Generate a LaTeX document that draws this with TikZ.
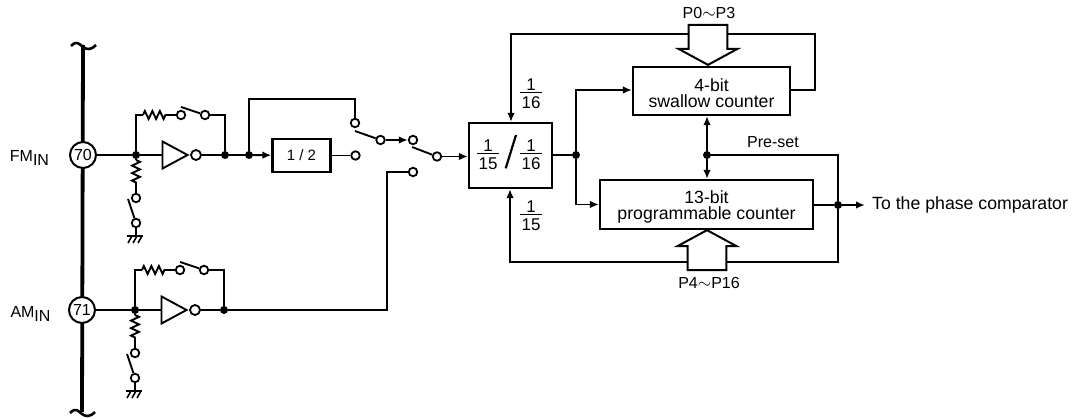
\documentclass[tikz,border=0pt]{standalone}
\usepackage{fontspec}
\setmainfont{Liberation Sans}
\usetikzlibrary{positioning,arrows.meta,calc,shapes.geometric,shapes.arrows,decorations.pathmorphing}

\newcommand{\insub}[1]{\fontsize{16}{18}\selectfont #1\raisebox{-4pt}{IN}}
\newcommand{\fracn}[2]{\fontsize{17}{18}\selectfont\vbox{\offinterlineskip\hbox to 22pt{\hss#1\hss}\kern1pt\hrule height 1.6pt\kern4pt\hbox to 22pt{\hss#2\hss}}}
\newcommand{\dnstrut}{\rule{0pt}{16.7pt}}

\begin{document}
\begin{tikzpicture}[
      x=1pt, y=-1pt,
      font=\fontsize{15}{17}\selectfont,
      wire/.style={line width=1.9pt},
      blockbox/.style={draw, line width=2.2pt, align=center, inner sep=0pt},
      bigtext/.style={font=\fontsize{17.7}{16}\selectfont},
      midtext/.style={font=\fontsize{16}{18}\selectfont},
      term/.style={draw, circle, line width=1.8pt, fill=white, minimum size=8.5pt, inner sep=0pt},
      dot/.style={circle, fill=black, minimum size=8pt, inner sep=0pt},
      pin/.style={draw, circle, line width=2pt, fill=white, minimum size=26pt, inner sep=0pt, midtext},
      invtri/.style={draw, line width=1.9pt, isosceles triangle, isosceles triangle stretches, minimum height=25pt, minimum width=27pt, inner sep=0pt},
      res/.style={wire, decorate, decoration={zigzag, amplitude=4pt, segment length=7.5pt}},
      arr/.style={wire, -{Latex[length=9pt, width=7.5pt]}},
      bigarr/.style={draw, line width=2pt, fill=white, single arrow, minimum height=40pt, minimum width=59pt, inner ysep=12.5pt, inner xsep=0pt, single arrow tip angle=123},
      busend/.pic={\draw[line width=2.6pt] (-12,1) .. controls (-6,-5) and (-4,-1) .. (0,2) .. controls (4,5) and (8,5) .. (13,0);},
      inputstage/.pic={
        \node[dot] (-jin) at (0,0) {};
        \node[invtri, anchor=apex] (-inv) at (54,0) {};
        \node[term, minimum size=10pt] (-bub) at (60,0) {};
        \node[dot] (-jout) at (89,0) {};
        % feedback
        \coordinate (-ra) at (7,-40);
        \coordinate (-rb) at (31,-40);
        \node[term] (-fba) at (45,-40) {};
        \node[term] (-fbb) at (69,-40) {};
        \coordinate (-bla) at (45,-48);
        % shunt
        \coordinate (-rc) at (0,5);
        \coordinate (-rd) at (0,29);
        \node[term] (-sha) at (0,43) {};
        \node[term] (-shb) at (0,68) {};
        \coordinate (-blb) at (-8,44);
        \coordinate (-gnd) at (0,81);
        \coordinate (-gl) at (-9,81);
        \coordinate (-gr) at (7,81);
        \draw[wire] (-jin) -- (-inv.lower side);
        \draw[wire] (-bub) -- (-jout);
        \draw[wire] (-jin) |- (-ra);
        \draw[res] (-ra) -- (-rb);
        \draw[wire] (-rb) -- (-fba);
        \draw[wire] (-bla) -- (-fbb);
        \draw[wire] (-fbb) -| (-jout);
        \draw[wire] (-jin) -- (-rc);
        \draw[res] (-rc) -- (-rd);
        \draw[wire] (-rd) -- (-sha);
        \draw[wire] (-blb) -- (-shb);
        \draw[wire] (-shb) -- (-gnd);
        \draw[line width=2pt] (-gl) -- (-gr);
        \draw[line width=1.6pt] (-8,88) -- (-4,81) (-3,88) -- (1,81) (2,88) -- (6,81);
      }
    ]
    \useasboundingbox (0,0) rectangle (1076,419);
    % bus and pins
    \coordinate (bustop) at (83,45);
    \coordinate (busbot) at (82,412);
    \draw[line width=3.8pt] (bustop) -- (busbot);
    \pic at (bustop) {busend};
    \pic at (busbot) {busend};
    \node[pin] (pinfm) at (83,155) {70};
    \node[pin] (pinam) at (82,310) {71};
    \node (fmlab) at (29.5,158) {\insub{FM}};
    \node (amlab) at (30.5,314) {\insub{AM}};
    % input stages
    \pic (fm) at (136,155) {inputstage};
    \pic (am) at (135,310) {inputstage};
    \draw[wire] (pinfm) -- (fm-jin);
    \draw[wire] (pinam) -- (am-jin);
    % divider and switches
    \node[dot] (jhalf) at (249,155) {};
    \node[blockbox, minimum width=58pt, minimum height=33pt] (half) at (301.5,155.5) {1 / 2};
    \node[term] (swa) at (355,123) {};
    \node[term] (swb) at (355.5,155.5) {};
    \node[term] (swc) at (380.5,140) {};
    \node[term] (swd) at (413,140) {};
    \node[term] (swe) at (413,172) {};
    \node[term] (swf) at (437,156.5) {};
    \coordinate (blade1) at (355,131);
    \coordinate (blade2) at (412,147);
    \coordinate (top1) at (249,99);
    \coordinate (amturn) at (387,172);
    % prescaler
    \node[blockbox, minimum width=83pt, minimum height=65pt] (pre) at (510.5,155.5) {};
    \node (frca) at (488,155) {\fracn{1}{15}};
    \node (frcb) at (531,155) {\fracn{1}{16}};
    \coordinate (slasha) at (505.7,168.3);
    \coordinate (slashb) at (516,135);
    \draw[line width=2.2pt] (slasha) -- (slashb);
    % counters
    \node[blockbox, bigtext, minimum width=157pt, minimum height=48pt] (swallow) at (711.5,91) {\dnstrut 4-bit\\swallow counter};
    \node[blockbox, bigtext, minimum width=213pt, minimum height=49pt] (prog) at (706.5,204.5) {\dnstrut 13-bit\\programmable counter};
    \node[dot] (jpre) at (576,155) {};
    \node[dot] (jset) at (707,155) {};
    \node[dot] (jout) at (838,205) {};
    \node[bigtext, anchor=west, inner sep=0pt] (outlab) at (872,205) {To the phase comparator};
    \node[midtext] (setlab) at (773,142) {Pre-set};
    \node (frcc) at (531,94) {\fracn{1}{16}};
    \node (frcd) at (531,216) {\fracn{1}{15}};
    \coordinate (fbstart) at (790,90);
    \coordinate (fbright) at (815,90);
    \coordinate (fbtop) at (511,34);
    \coordinate (fbbot) at (510,262);
    \coordinate (outend) at (865,205);
    % edges
    \draw[wire] (fm-jout) -- (jhalf);
    \draw[arr] (jhalf) -- (half);
    \draw[wire] (half) -- (swb);
    \draw[wire] (jhalf) |- (top1) -| (swa);
    \draw[wire] (blade1) -- (swc);
    \draw[arr] (swc) -- (swd);
    \draw[wire] (blade2) -- (swf);
    \draw[arr] (swf) -- (swf -| pre.west);
    \draw[wire] (am-jout) -| (amturn) -- (swe);
    \draw[wire] (pre.east |- jpre) -- (jpre);
    \draw[arr] (jpre) |- ($(swallow.west)+(0,-1)$);
    \draw[arr] (jpre) |- (prog.west);
    \draw[arr] (fbstart) -- (fbright) |- (fbtop) -- (fbtop |- pre.north);
    \draw[arr] (jset) -- (swallow.south -| jset);
    \draw[arr] (jset) -- (prog.north -| jset);
    \draw[wire] (jset) -| (jout);
    \draw[wire] (prog.east |- jout) -- (jout);
    \draw[arr] (jout) -- (outend);
    \draw[arr] (jout) |- (fbbot) -- (fbbot |- pre.south);
    % data inputs
    \node[bigarr, rotate=-90, anchor=tip] (dataa) at (708,66) {};
    \node[bigarr, rotate=90, anchor=tip] (datab) at (707,229) {};
    \node[midtext] (dataalab) at (709,13) {P0$\sim$P3};
    \node[midtext] (datablab) at (709,283) {P4$\sim$P16};
  \end{tikzpicture}
\end{document}
